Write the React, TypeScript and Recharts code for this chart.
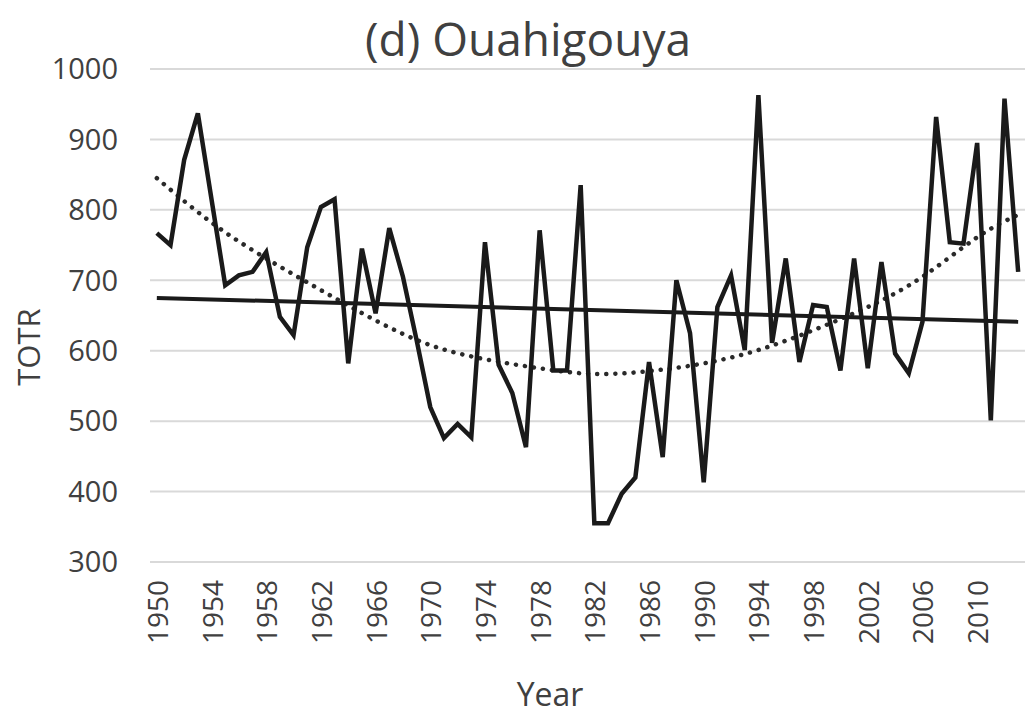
import { LineChart, Line, XAxis, YAxis, CartesianGrid } from 'recharts';

// Annual TOTR at Ouahigouya
const YEARS = [
  1950, 1951, 1952, 1953, 1954, 1955, 1956, 1957, 1958, 1959,
  1960, 1961, 1962, 1963, 1964, 1965, 1966, 1967, 1968, 1969,
  1970, 1971, 1972, 1973, 1974, 1975, 1976, 1977, 1978, 1979,
  1980, 1981, 1982, 1983, 1984, 1985, 1986, 1987, 1988, 1989,
  1990, 1991, 1992, 1993, 1994, 1995, 1996, 1997, 1998, 1999,
  2000, 2001, 2002, 2003, 2004, 2005, 2006, 2007, 2008, 2009,
  2010, 2011, 2012, 2013,
];
const TOTR = [
  767, 750, 871, 937, 815, 693, 707, 712, 740, 648,
  622, 747, 804, 815, 582, 745, 653, 774, 705, 615,
  520, 476, 496, 477, 754, 580, 540, 463, 771, 572,
  572, 835, 355, 355, 397, 420, 584, 449, 700, 625,
  413, 662, 707, 601, 963, 611, 731, 584, 665, 662,
  572, 731, 575, 726, 596, 568, 641, 932, 754, 752,
  895, 501, 958, 712,
];

// Trend lines as drawn in the figure
const LINEAR_YEARS = [1950, 2013];
const LINEAR_VALUES = [675, 641];
const POLY_YEARS = [1950, 1954, 1958, 1962, 1966, 1970, 1974, 1978, 1982, 1986, 1990, 1994, 1998, 2002, 2006, 2010, 2013];
const POLY_VALUES = [845, 782, 731, 686, 643, 608, 588, 575, 567, 571, 582, 601, 629, 662, 705, 761, 793];

const Y_TICKS = [300, 400, 500, 600, 700, 800, 900, 1000];
const X_TICKS = [1950, 1954, 1958, 1962, 1966, 1970, 1974, 1978, 1982, 1986, 1990, 1994, 1998, 2002, 2006, 2010];

const FONT = '"Open Sans", sans-serif';
const TEXT = '#404040';

const chartData = YEARS.map((year, i) => {
  const li = LINEAR_YEARS.indexOf(year);
  const pi = POLY_YEARS.indexOf(year);
  return {
    year,
    totr: TOTR[i],
    linear: li >= 0 ? LINEAR_VALUES[li] : null,
    poly: pi >= 0 ? POLY_VALUES[pi] : null,
  };
});

function YearTick({ x, y, payload }: any) {
  return (
    <text
      x={x}
      y={y}
      transform={`rotate(-90 ${x} ${y})`}
      textAnchor="end"
      dominantBaseline="central"
      fill={TEXT}
      fontFamily={FONT}
      fontSize={28}
    >
      {payload.value}
    </text>
  );
}

export default function App() {
  return (
    <div style={{ position: 'relative', width: 1028, height: 715, background: '#fff' }}>
      <style>{'body{margin:0}'}</style>
      <LineChart
        width={1028}
        height={715}
        data={chartData}
        margin={{ top: 69, right: 3, left: 0, bottom: 0 }}
      >
        <CartesianGrid vertical={false} stroke="#d9d9d9" strokeWidth={2} />
        <XAxis
          dataKey="year"
          type="number"
          domain={[1949.5, 2013.5]}
          ticks={X_TICKS}
          interval={0}
          height={153}
          tickLine={false}
          tickSize={0}
          tickMargin={18}
          axisLine={{ stroke: '#d9d9d9', strokeWidth: 2 }}
          tick={<YearTick />}
        />
        <YAxis
          domain={[300, 1000]}
          ticks={Y_TICKS}
          width={150}
          axisLine={false}
          tickLine={false}
          tickSize={0}
          tickMargin={32}
          tick={{ fill: TEXT, fontSize: 29, fontFamily: FONT }}
        />
        {/* polynomial trend (dotted) */}
        <Line
          dataKey="poly"
          type="natural"
          connectNulls
          stroke="#2a2a2a"
          strokeWidth={4.5}
          strokeDasharray="0.1 9"
          strokeLinecap="round"
          dot={false}
          isAnimationActive={false}
        />
        {/* linear trend */}
        <Line
          dataKey="linear"
          type="linear"
          connectNulls
          stroke="#1a1a1a"
          strokeWidth={4}
          dot={false}
          isAnimationActive={false}
        />
        <Line
          dataKey="totr"
          type="linear"
          stroke="#1a1a1a"
          strokeWidth={4.5}
          strokeLinejoin="miter"
          dot={false}
          isAnimationActive={false}
        />
      </LineChart>
      <svg
        width={1028}
        height={715}
        style={{ position: 'absolute', left: 0, top: 0, pointerEvents: 'none' }}
      >
        <text x={528} y={56} textAnchor="middle" fill={TEXT} fontFamily={FONT} fontSize={46}>
          (d) Ouahigouya
        </text>
        <text
          x={28}
          y={347}
          transform="rotate(-90 28 347)"
          textAnchor="middle"
          dominantBaseline="central"
          fill={TEXT}
          fontFamily={FONT}
          fontSize={31}
        >
          TOTR
        </text>
        <text x={550} y={706} textAnchor="middle" fill={TEXT} fontFamily={FONT} fontSize={32}>
          Year
        </text>
      </svg>
    </div>
  );
}
